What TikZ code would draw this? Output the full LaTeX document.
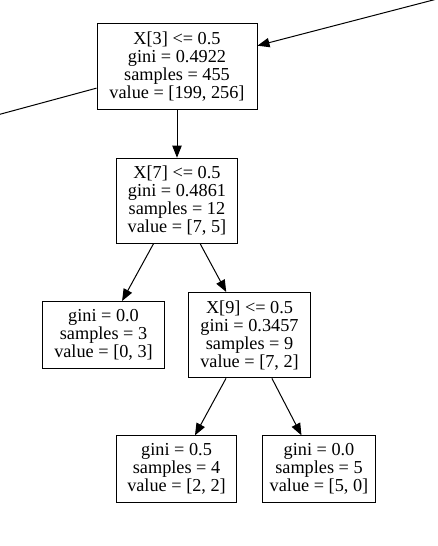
\documentclass[tikz,border=0pt]{standalone}
\usepackage{fontspec}
\setmainfont{Liberation Serif}
\usetikzlibrary{
    positioning,      % For placing nodes relative to each other (e.g., below=of)
    arrows.meta       % For the filled triangle arrow tips
}

\begin{document}
\begin{tikzpicture}[
    % Global style settings: one unit is one pixel of the reference, y grows downwards
    x=0.75pt, y=-0.75pt,
    % Style for the boxes that split (four lines of text)
    split_box/.style={
        draw,
        line width=0.75pt,
        inner sep=0pt,
        minimum width=91.5pt,
        minimum height=64pt,
        align=center,
        font=\fontsize{13.7pt}{13.5pt}\selectfont
    },
    % Style for the leaves (three lines of text)
    leaf_box/.style={
        split_box,
        minimum height=50pt
    },
    % Style for the connecting lines
    edge_style/.style={
        line width=0.75pt
    },
    % Style for arrowheads
    arrow_tip/.style={
        -{Triangle[length=9pt, width=7pt]}
    }
]
    % 0. Fix the frame and cut away what lies outside of it.
    \useasboundingbox (0,0) rectangle (437,546);
    \clip (0,0) rectangle (437,546);

    % 1. Define the nodes of the tree.
    \node[split_box, minimum width=120pt] (split_x3) at (177,66.5)
        {X[3] <= 0.5\\ gini = 0.4922\\ samples = 455\\ value = [199, 256]};
    \node[split_box, minimum width=90.75pt, below=36pt of split_x3] (split_x7)
        {X[7] <= 0.5\\ gini = 0.4861\\ samples = 12\\ value = [7, 5]};
    \node[leaf_box, below=42.75pt of split_x7, xshift=-55.1pt] (leaf_03)
        {gini = 0.0\\ samples = 3\\ value = [0, 3]};
    \node[split_box, below=36pt of split_x7, xshift=54.4pt] (split_x9)
        {X[9] <= 0.5\\ gini = 0.3457\\ samples = 9\\ value = [7, 2]};
    \node[leaf_box, minimum width=90pt, below=42.75pt of split_x9, xshift=-54.75pt] (leaf_22)
        {gini = 0.5\\ samples = 4\\ value = [2, 2]};
    \node[leaf_box, minimum width=84.75pt, below=42.75pt of split_x9, xshift=52.1pt] (leaf_50)
        {gini = 0.0\\ samples = 5\\ value = [5, 0]};

    % 2. The parent and the left sibling lie outside the frame.
    \coordinate (parent_node) at (689,-66.5);
    \coordinate (left_child) at (-317,200);

    % 3. Draw the edges.
    \draw[edge_style, arrow_tip] (parent_node) -- (split_x3);
    \draw[edge_style] (split_x3) -- (left_child);
    \draw[edge_style, arrow_tip] (split_x3) -- (split_x7);
    \draw[edge_style, arrow_tip] (split_x7) -- (leaf_03);
    \draw[edge_style, arrow_tip] (split_x7) -- (split_x9);
    \draw[edge_style, arrow_tip] (split_x9) -- (leaf_22);
    \draw[edge_style, arrow_tip] (split_x9) -- (leaf_50);

\end{tikzpicture}
\end{document}
